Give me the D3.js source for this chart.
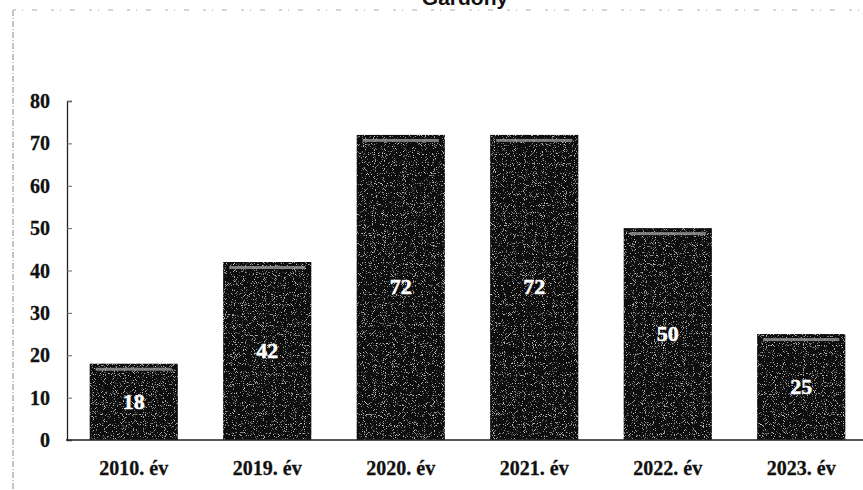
<!DOCTYPE html>
<html>
<head>
<meta charset="utf-8">
<script src="https://cdn.jsdelivr.net/npm/d3@7"></script>
<style>
body{margin:0;background:#fff;}
svg{display:block;}
</style>
</head>
<body>
<script>
var title="Gárdony";
var categories=["2010. év","2019. év","2020. év","2021. év","2022. év","2023. év"];
var values=[18,42,72,72,50,25];
var yTicks=[0,10,20,30,40,50,60,70,80];

var W=863,H=490;
var svg=d3.select("body").append("svg")
	.attr("width",W)
	.attr("height",H);

var defs=svg.append("defs");
// grainy scan look for the bars
var f=defs.append("filter").attr("id","grain")
	.attr("x",0).attr("y",0).attr("width",1).attr("height",1);
f.append("feTurbulence")
	.attr("type","fractalNoise")
	.attr("baseFrequency","1.1")
	.attr("numOctaves",1)
	.attr("seed",7)
	.attr("result","n");
f.append("feColorMatrix")
	.attr("in","n")
	.attr("type","matrix")
	.attr("values","0 0 0 0 0.6  0 0 0 0 0.6  0 0 0 0 0.6  7 0 0 0 -4.2")
	.attr("result","speck");
f.append("feComposite")
	.attr("in","speck")
	.attr("in2","SourceGraphic")
	.attr("operator","atop");

var x=d3.scaleBand()
	.domain(categories)
	.range([67,868])
	.paddingInner(0.34)
	.paddingOuter(0.17);

var y=d3.scaleLinear()
	.domain([0,80])
	.range([440,101]);

// scan edges
svg.append("line")
	.attr("x1",13).attr("x2",13).attr("y1",10).attr("y2",H)
	.attr("stroke","#888").attr("stroke-width",1)
	.attr("stroke-dasharray","6,2,1,2");
svg.append("line")
	.attr("x1",13).attr("x2",W).attr("y1",10).attr("y2",10)
	.attr("stroke","#aaa").attr("stroke-width",1)
	.attr("stroke-dasharray","3,6,1,9,5,14");

svg.append("text")
	.attr("x",465).attr("y",5)
	.attr("text-anchor","middle")
	.attr("font-family","Liberation Sans, Arial, sans-serif")
	.attr("font-weight","bold")
	.attr("font-size",21)
	.attr("fill","#111")
	.text(title);

var data=categories.map(function(c,i){return {cat:c,val:values[i]};});

var g=svg.append("g");
g.selectAll("rect.bar")
	.data(data)
	.enter().append("rect")
	.attr("class","bar")
	.attr("x",function(d){return x(d.cat);})
	.attr("y",function(d){return y(d.val);})
	.attr("width",x.bandwidth())
	.attr("height",function(d){return y(0)-y(d.val);})
	.attr("fill","#080808")
	.attr("filter","url(#grain)");

// light strip near top of each bar
g.selectAll("rect.hi")
	.data(data)
	.enter().append("rect")
	.attr("class","hi")
	.attr("x",function(d){return x(d.cat)+6;})
	.attr("y",function(d){return y(d.val)+4;})
	.attr("width",x.bandwidth()-12)
	.attr("height",3)
	.attr("fill","#9a9a9a")
	.attr("opacity",0.8);

g.selectAll("text.val")
	.data(data)
	.enter().append("text")
	.attr("class","val")
	.attr("x",function(d){return x(d.cat)+x.bandwidth()/2;})
	.attr("y",function(d){return (y(d.val)+y(0))/2+7;})
	.attr("text-anchor","middle")
	.attr("font-family","Liberation Serif, Times New Roman, serif")
	.attr("font-weight","bold")
	.attr("font-size",22)
	.attr("fill","#fff")
	.attr("stroke","#fff")
	.attr("stroke-width",0.5)
	.text(function(d){return d.val;});

// axes
var yAxis=svg.append("g")
	.attr("transform","translate(67,0)")
	.call(d3.axisRight(y).tickValues(yTicks).tickSize(5).tickFormat(""));
yAxis.select(".domain").attr("stroke","#222").attr("stroke-width",1.3);
yAxis.selectAll(".tick line").attr("stroke","#666");

svg.append("g").selectAll("text")
	.data(yTicks)
	.enter().append("text")
	.attr("x",50)
	.attr("y",function(d){return y(d)+7;})
	.attr("text-anchor","end")
	.attr("font-family","Liberation Serif, Times New Roman, serif")
	.attr("font-weight","bold")
	.attr("font-size",20)
	.attr("fill","#111")
	.attr("stroke","#111")
	.attr("stroke-width",0.3)
	.text(function(d){return d;});

var xAxis=svg.append("g")
	.attr("transform","translate(0,440)")
	.call(d3.axisBottom(x).tickSize(0).tickPadding(0).tickFormat(""));
xAxis.select(".domain").remove();
svg.append("line")
	.attr("x1",66).attr("x2",W).attr("y1",440).attr("y2",440)
	.attr("stroke","#222").attr("stroke-width",1.3);

svg.append("g").selectAll("text")
	.data(categories)
	.enter().append("text")
	.attr("x",function(d){return x(d)+x.bandwidth()/2;})
	.attr("y",475)
	.attr("text-anchor","middle")
	.attr("font-family","Liberation Serif, Times New Roman, serif")
	.attr("font-weight","bold")
	.attr("font-size",20)
	.attr("fill","#111")
	.attr("stroke","#111")
	.attr("stroke-width",0.3)
	.text(function(d){return d;});
</script>
</body>
</html>
